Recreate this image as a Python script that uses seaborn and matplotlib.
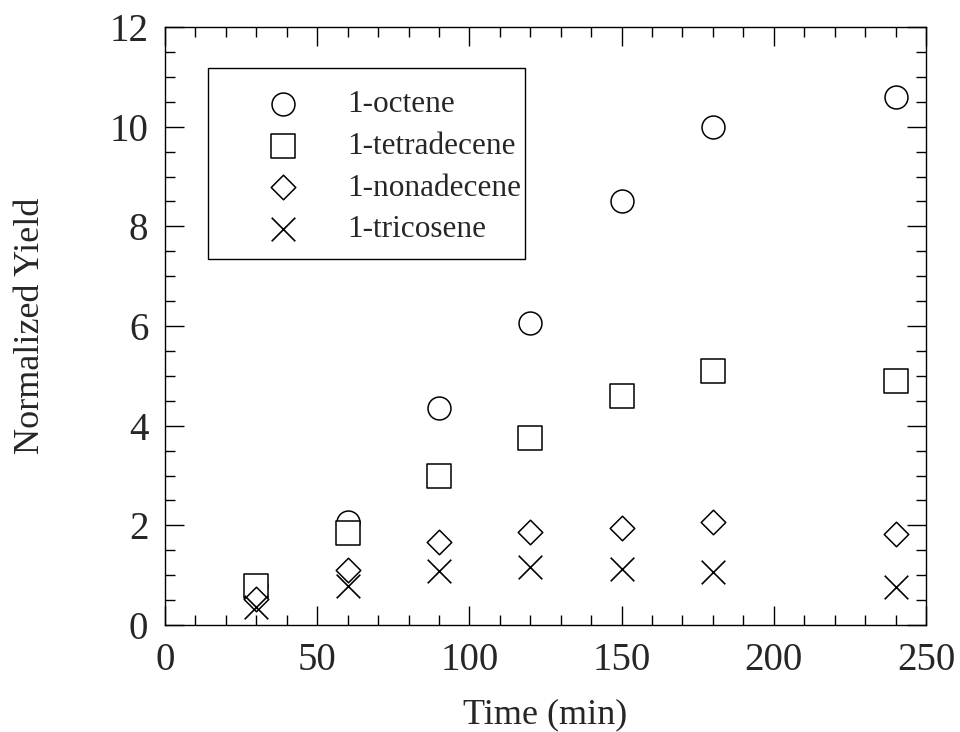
import matplotlib
matplotlib.use("Agg")
import matplotlib.pyplot as plt
from matplotlib.patches import Rectangle
import seaborn as sns
from matplotlib.ticker import MultipleLocator

# Reaction time (min) and normalized yields of each alpha-olefin
time_min = [30, 60, 90, 120, 150, 180, 240]
octene = [0.78, 2.06, 4.35, 6.07, 8.50, 10.0, 10.6]
tetradecene = [0.78, 1.85, 3.00, 3.75, 4.60, 5.10, 4.90]
nonadecene = [0.52, 1.10, 1.67, 1.87, 1.95, 2.07, 1.83]
tricosene = [0.36, 0.78, 1.08, 1.16, 1.12, 1.06, 0.77]

series_names = ["1-octene", "1-tetradecene", "1-nonadecene", "1-tricosene"]
series_values = [octene, tetradecene, nonadecene, tricosene]
series_markers = ["o", "s", "D", "x"]
series_sizes = [16.5, 17, 12.5, 17]

sns.set_theme(style="ticks")
plt.rcParams["font.family"] = ["Liberation Serif", "DejaVu Serif"]

fig = plt.figure(figsize=(9.6, 7.32), dpi=100)
ax = fig.add_axes([165 / 960, 1 - 625 / 732, 761 / 960, 598 / 732])

for name, vals, mk, ms in zip(series_names, series_values, series_markers, series_sizes):
    if mk == "x":
        sns.scatterplot(x=time_min, y=vals, marker=mk, s=ms ** 2, color="black",
                        linewidth=1.2, label=name, ax=ax, zorder=3)
    else:
        sns.scatterplot(x=time_min, y=vals, marker=mk, s=ms ** 2, facecolor="white",
                        edgecolor="black", linewidth=1.1, label=name, ax=ax, zorder=3)

ax.set_xlim(0, 250)
ax.set_ylim(0, 12)
ax.xaxis.set_major_locator(MultipleLocator(50))
ax.xaxis.set_minor_locator(MultipleLocator(10))
ax.yaxis.set_major_locator(MultipleLocator(2))
ax.yaxis.set_minor_locator(MultipleLocator(0.5))
ax.tick_params(which="both", direction="in", top=True, right=True,
               color="black", width=1.0)
ax.tick_params(which="major", length=14, labelsize=28, pad=12)
ax.tick_params(which="minor", length=7)
for sp in ax.spines.values():
    sp.set_color("black")
    sp.set_linewidth(1.0)

ax.set_xlabel("Time (min)", fontsize=26)
ax.set_ylabel("Normalized Yield", fontsize=26)
ax.xaxis.set_label_coords(0.5, (625 - 698) / 598)
ax.yaxis.set_label_coords((47 - 165) / 761, 0.5)

# Legend entries without their own frame; a plain box is drawn around them
leg = ax.legend(loc="upper left", bbox_to_anchor=((251.5 - 165) / 761, (625 - 90) / 598),
                borderaxespad=0, borderpad=0, fontsize=22.5, frameon=False,
                handlelength=2.0, handletextpad=1.08, labelspacing=0.41)
box = Rectangle(((208 - 165) / 761, (625 - 259) / 598), (525 - 208) / 761, (259 - 68) / 598,
                transform=ax.transAxes, facecolor="white", edgecolor="black",
                linewidth=1.0, zorder=4)
ax.add_patch(box)
leg.set_zorder(5)

fig.savefig("out.png", dpi=100)
